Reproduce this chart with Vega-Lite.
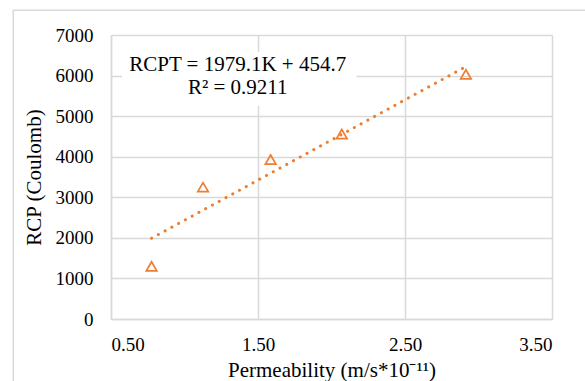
{
  "$schema": "https://vega.github.io/schema/vega-lite/v6.json",
  "width": 441,
  "height": 284,
  "autosize": {"type": "none"},
  "padding": {"left": 111, "top": 35, "right": 33, "bottom": 62},
  "background": "white",
  "config": {
    "font": "Liberation Serif",
    "view": {"stroke": null},
    "axis": {
      "domainColor": "#d9d9d9",
      "domainWidth": 1.5,
      "gridColor": "#d9d9d9",
      "gridWidth": 1.5,
      "ticks": false,
      "labelColor": "#000000",
      "labelFont": "Liberation Serif",
      "labelFontSize": 19,
      "titleFont": "Liberation Serif",
      "titleFontSize": 21,
      "titleFontWeight": "normal",
      "titleColor": "#000000"
    }
  },
  "datasets": {
    "points": [
      {"k": 0.776, "rcp": 1300},
      {"k": 1.126, "rcp": 3250},
      {"k": 1.586, "rcp": 3930},
      {"k": 2.07, "rcp": 4560},
      {"k": 2.914, "rcp": 6030}
    ],
    "trend": [
      {"k": 0.776, "rcp": 1990.5},
      {"k": 2.914, "rcp": 6221.9}
    ],
    "frame": [
      {"x1": -0.165, "x2": 4.5, "y1": 7610, "y2": -4000}
    ],
    "box": [
      {"x1": 0.575, "x2": 2.17, "y1": 6580, "y2": 5250}
    ],
    "labels": [
      {"k": 1.362, "rcp": 6256, "text": "RCPT = 1979.1K + 454.7"},
      {"k": 1.362, "rcp": 5690, "text": "R² = 0.9211"}
    ]
  },
  "layer": [
    {
      "data": {"name": "frame"},
      "mark": {"type": "rect", "fill": null, "stroke": "#d9d9d9", "strokeWidth": 1.5, "clip": false},
      "encoding": {
        "x": {"field": "x1", "type": "quantitative", "scale": {"domain": [0.5, 3.5], "nice": false, "zero": false}},
        "x2": {"field": "x2"},
        "y": {"field": "y1", "type": "quantitative", "scale": {"domain": [0, 7000], "nice": false}},
        "y2": {"field": "y2"}
      }
    },
    {
      "data": {"name": "box"},
      "mark": {"type": "rect", "fill": "white", "stroke": null},
      "encoding": {
        "x": {"field": "x1", "type": "quantitative"},
        "x2": {"field": "x2"},
        "y": {"field": "y1", "type": "quantitative"},
        "y2": {"field": "y2"}
      }
    },
    {
      "data": {"name": "trend"},
      "mark": {"type": "line", "color": "#ED7D31", "strokeWidth": 3, "strokeCap": "round", "strokeDash": [0.1, 7.6]},
      "encoding": {
        "x": {"field": "k", "type": "quantitative"},
        "y": {"field": "rcp", "type": "quantitative"}
      }
    },
    {
      "data": {"name": "points"},
      "mark": {"type": "point", "shape": "triangle-up", "filled": false, "color": "#ED7D31", "strokeWidth": 1.7, "size": 110, "opacity": 1},
      "encoding": {
        "x": {
          "field": "k", "type": "quantitative",
          "axis": {"values": [0.5, 1.5, 2.5, 3.5], "format": ".2f", "labelPadding": 16, "title": "Permeability (m/s*10⁻¹¹)", "titlePadding": 5}
        },
        "y": {
          "field": "rcp", "type": "quantitative",
          "axis": {"values": [0, 1000, 2000, 3000, 4000, 5000, 6000, 7000], "format": "d", "labelPadding": 18, "title": "RCP (Coulomb)", "titlePadding": 11}
        }
      }
    },
    {
      "data": {"name": "labels"},
      "mark": {"type": "text", "fontSize": 21, "font": "Liberation Serif", "color": "#000000", "align": "center", "baseline": "middle"},
      "encoding": {
        "x": {"field": "k", "type": "quantitative"},
        "y": {"field": "rcp", "type": "quantitative"},
        "text": {"field": "text"}
      }
    }
  ]
}
